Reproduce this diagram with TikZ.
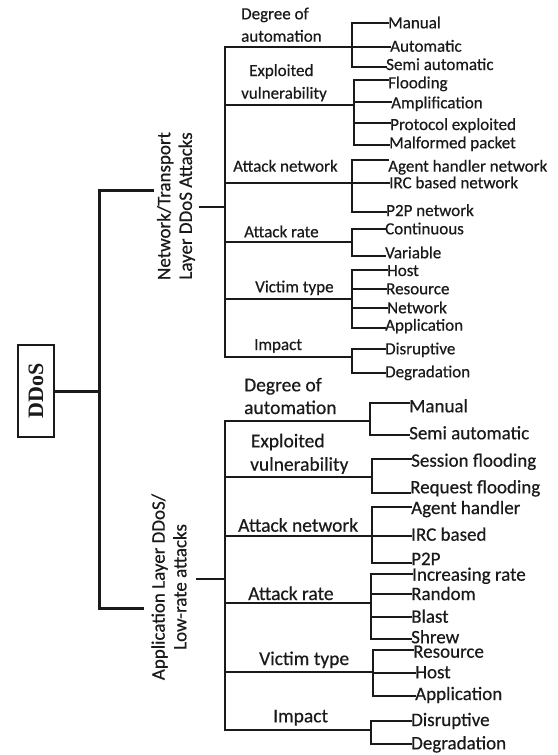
\documentclass[tikz,border=0pt]{standalone}
\usepackage{fontspec}
\setmainfont{Carlito}[FakeBold=0.5]
\newfontfamily\rootfont{Liberation Serif}
\definecolor{ink}{HTML}{1A1A1A}
\begin{document}
\begin{tikzpicture}[x=1pt,y=-1pt,
  treeline/.style={draw=ink,line width=2pt,line cap=rect},
  bracketline/.style={draw=ink,line width=3pt,line cap=rect},
  leafU/.style={inner sep=0pt,anchor=base west,text=ink,font=\fontsize{17}{20}\selectfont},
  leafL/.style={inner sep=0pt,anchor=base west,text=ink,font=\fontsize{19}{22}\selectfont},
  catU/.style={inner sep=0pt,anchor=base west,text=ink,font=\fontsize{17}{20}\selectfont},
  catL/.style={inner sep=0pt,anchor=base west,text=ink,font=\fontsize{19.5}{22}\selectfont},
  layerlabel/.style={inner sep=0pt,rotate=90,align=center,text=ink,font=\fontsize{19}{21.7}\selectfont},
  rootbox/.style={draw=ink,line width=2.5pt,rotate=90,minimum width=92pt,minimum height=36pt,inner sep=0pt,
    text=ink,font=\rootfont\bfseries\fontsize{22}{24}\selectfont}
]
\useasboundingbox (0,0) rectangle (557,755);

% ---------- root and the two attack families ----------
\node[rootbox] (ddos) at (36,391) {DDoS};
\coordinate (rootj) at (99,391);
\coordinate (bt) at (99,190);
\coordinate (bb) at (99,608);
\coordinate (btend) at (152,190);
\coordinate (bbend) at (142,608);
\draw[bracketline] (ddos) -- (rootj);
\draw[bracketline] (btend) -- (bt) -- (bb) -- (bbend);

\node[layerlabel] (netlayer) at (176,206) {Network/Transport\\Layer DDoS Attacks};
\node[layerlabel] (applayer) at (169,587) {Application Layer DDoS/\\Low-rate attacks};

% ---------- network / transport layer ----------
\coordinate (un) at (200,206.7);
\coordinate (ut) at (225,206.7);
\draw[treeline] (un) -- (ut);
\coordinate (ua0) at (225,46.7);  \coordinate (ua) at (352,46.7);
\coordinate (ub0) at (225,105);   \coordinate (ub) at (354,105);
\coordinate (uc0) at (225,182.7); \coordinate (uc) at (352,182.7);
\coordinate (ud0) at (225,241.7); \coordinate (ud) at (352,241.7);
\coordinate (ue0) at (225,299);   \coordinate (ue) at (352,299);
\coordinate (uf0) at (225,356.7); \coordinate (uf) at (352,356.7);
\draw[treeline] (ua0) -- (uf0);
\foreach \g in {ua,ub,uc,ud,ue,uf} {\draw[treeline] (\g0) -- (\g);}

\node[catU] (uacat1) at (241,19.3) {Degree of};
\node[catU] (uacat2) at (241,41.7) {automation};
\node[catU] (ubcat1) at (249,76) {Exploited};
\node[catU] (ubcat2) at (241,98.7) {vulnerability};
\node[catU] (uccat) at (233,171.7) {Attack network};
\node[catU] (udcat) at (244,237.3) {Attack rate};
\node[catU] (uecat) at (255,292.3) {Victim type};
\node[catU] (ufcat) at (254,350) {Impact};

\foreach \k/\lx/\ly/\by/\txt in {1/388/22.7/28.3/Manual, 2/390/46.7/51.7/Automatic, 3/386/66.7/70/Semi automatic} {
  \coordinate (ua\k) at (352,\ly);
  \node[leafU] (ua\k t) at (\lx,\by) {\txt};
  \draw[treeline] (ua\k) -- (ua\k t.west |- ua\k);
}
\draw[treeline] (ua1) -- (ua3);

\foreach \k/\lx/\ly/\by/\txt in {1/388/80/88.3/Flooding, 2/391/101.7/108.3/Amplification, 3/390/123/130/Protocol exploited, 4/389/145/148.3/Malformed packet} {
  \coordinate (ub\k) at (354,\ly);
  \node[leafU] (ub\k t) at (\lx,\by) {\txt};
  \draw[treeline] (ub\k) -- (ub\k t.west |- ub\k);
}
\draw[treeline] (ub1) -- (ub4);

\foreach \k/\lx/\ly/\by/\txt in {1/388/160/171.7/Agent handler network, 2/389/182.7/188.3/IRC based network, 3/386/211.7/216/P2P network} {
  \coordinate (uc\k) at (352,\ly);
  \node[leafU] (uc\k t) at (\lx,\by) {\txt};
  \draw[treeline] (uc\k) -- (uc\k t.west |- uc\k);
}
\draw[treeline] (uc1) -- (uc3);

\foreach \k/\lx/\ly/\by/\txt in {1/385/229.3/234.3/Continuous, 2/385/256/258.3/Variable} {
  \coordinate (ud\k) at (352,\ly);
  \node[leafU] (ud\k t) at (\lx,\by) {\txt};
  \draw[treeline] (ud\k) -- (ud\k t.west |- ud\k);
}
\draw[treeline] (ud1) -- (ud2);

\foreach \k/\lx/\ly/\by/\txt in {1/387/270/276/Host, 2/386/289.3/294.3/Resource, 3/387/307.7/313.3/Network, 4/385/328/330.7/Application} {
  \coordinate (ue\k) at (352,\ly);
  \node[leafU] (ue\k t) at (\lx,\by) {\txt};
  \draw[treeline] (ue\k) -- (ue\k t.west |- ue\k);
}
\draw[treeline] (ue1) -- (ue4);

\foreach \k/\lx/\ly/\by/\txt in {1/385/349/354.3/Disruptive, 2/385/372.7/377.3/Degradation} {
  \coordinate (uf\k) at (352,\ly);
  \node[leafU] (uf\k t) at (\lx,\by) {\txt};
  \draw[treeline] (uf\k) -- (uf\k t.west |- uf\k);
}
\draw[treeline] (uf1) -- (uf2);

% ---------- application layer / low-rate ----------
\coordinate (ln) at (197,579);
\coordinate (lt) at (225,579);
\draw[treeline] (ln) -- (lt);
\coordinate (la0) at (225,420.7); \coordinate (la) at (370,420.7);
\coordinate (lb0) at (225,476.7); \coordinate (lb) at (372,476.7);
\coordinate (lc0) at (225,535.7); \coordinate (lc) at (372,535.7);
\coordinate (ld0) at (225,603.3); \coordinate (ld) at (371,603.3);
\coordinate (le0) at (225,672);   \coordinate (le) at (373,672);
\coordinate (lf0) at (225,730);   \coordinate (lf) at (371,730);
\draw[treeline] (la0) -- (lf0);
\foreach \g in {la,lb,lc,ld,le,lf} {\draw[treeline] (\g0) -- (\g);}

\node[catL] (lacat1) at (244,391.3) {Degree of};
\node[catL] (lacat2) at (244,414) {automation};
\node[catL] (lbcat1) at (250.7,447.3) {Exploited};
\node[catL] (lbcat2) at (250,470.7) {vulnerability};
\node[catL] (lccat) at (238,531.7) {Attack network};
\node[catL] (ldcat) at (248,600) {Attack rate};
\node[catL] (lecat) at (259,665) {Victim type};
\node[catL] (lfcat) at (273,722.3) {Impact};

\foreach \k/\lx/\ly/\by/\txt in {1/409/403.3/412.3/Manual, 2/409/435/439.3/Semi automatic} {
  \coordinate (la\k) at (370,\ly);
  \node[leafL] (la\k t) at (\lx,\by) {\txt};
  \draw[treeline] (la\k) -- (la\k t.west |- la\k);
}
\draw[treeline] (la1) -- (la2);

\foreach \k/\lx/\ly/\by/\txt in {1/411/459.3/466.7/Session flooding, 2/410/492.7/493.3/Request flooding} {
  \coordinate (lb\k) at (372,\ly);
  \node[leafL] (lb\k t) at (\lx,\by) {\txt};
  \draw[treeline] (lb\k) -- (lb\k t.west |- lb\k);
}
\draw[treeline] (lb1) -- (lb2);

\foreach \k/\lx/\ly/\by/\txt in {1/411/506.7/514/Agent handler, 2/411/535.7/540.7/IRC based, 3/411/562.7/565/P2P} {
  \coordinate (lc\k) at (372,\ly);
  \node[leafL] (lc\k t) at (\lx,\by) {\txt};
  \draw[treeline] (lc\k) -- (lc\k t.west |- lc\k);
}
\draw[treeline] (lc1) -- (lc3);

\foreach \k/\lx/\ly/\by/\txt in {1/412/574/580.7/Increasing rate, 2/411/594.3/600/Random, 3/411/616.7/622.7/Blast, 4/411/639/643.3/Shrew} {
  \coordinate (ld\k) at (371,\ly);
  \node[leafL] (ld\k t) at (\lx,\by) {\txt};
  \draw[treeline] (ld\k) -- (ld\k t.west |- ld\k);
}
\draw[treeline] (ld1) -- (ld4);

\foreach \k/\lx/\ly/\by/\txt in {1/413/650/657.7/Resource, 2/415/673.3/678.3/Host, 3/415/696/700/Application} {
  \coordinate (le\k) at (373,\ly);
  \node[leafL] (le\k t) at (\lx,\by) {\txt};
  \draw[treeline] (le\k) -- (le\k t.west |- le\k);
}
\draw[treeline] (le1) -- (le3);

\foreach \k/\lx/\ly/\by/\txt in {1/411/720.7/726/Disruptive, 2/411/744/749.3/Degradation} {
  \coordinate (lf\k) at (371,\ly);
  \node[leafL] (lf\k t) at (\lx,\by) {\txt};
  \draw[treeline] (lf\k) -- (lf\k t.west |- lf\k);
}
\draw[treeline] (lf1) -- (lf2);
\end{tikzpicture}
\end{document}
